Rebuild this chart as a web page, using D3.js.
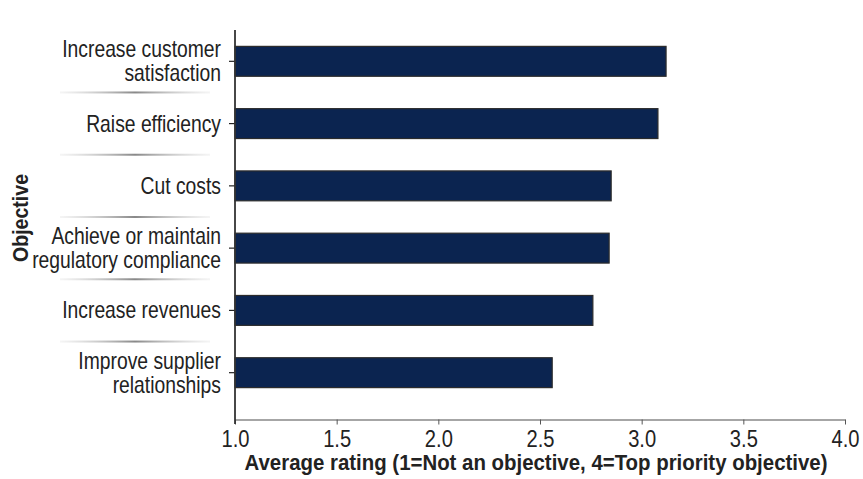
<!DOCTYPE html>
<html>
<head>
    <script src="https://d3js.org/d3.v7.min.js" type="text/javascript"></script>
    <style>
        body { margin: 0; background: #fff; }
        text { fill: #222; }
    </style>
</head>
<body>
    <div id="viz"></div>
    <script type="text/javascript">

    // objectives, top to bottom (each entry = lines of the label)
    var objectives = [
        ["Increase customer", "satisfaction"],
        ["Raise efficiency"],
        ["Cut costs"],
        ["Achieve or maintain", "regulatory compliance"],
        ["Increase revenues"],
        ["Improve supplier", "relationships"]
    ];
    var ratings = [3.12, 3.08, 2.85, 2.84, 2.76, 2.56];
    var xTicks = [1.0, 1.5, 2.0, 2.5, 3.0, 3.5, 4.0];
    var xTitle = "Average rating (1=Not an objective, 4=Top priority objective)";
    var yTitle = "Objective";

    var W = 863, H = 479;
    // no narrow font installed, so squeeze Liberation Sans horizontally
    var font = "'Liberation Sans', Arial, sans-serif";
    var squeeze = 0.84;

    var keys = objectives.map(function(d) { return d.join(" "); });

    var svg = d3.select("#viz")
        .append("svg")
        .attr("width", W)
        .attr("height", H)
        .style("font-family", font);

    var x = d3.scaleLinear().domain([1, 4]).range([235, 845]);
    var y = d3.scaleBand().domain(keys).range([14, 420]).padding(0.52);

    // gradient used for the little divider lines between labels
    var grad = svg.append("defs").append("linearGradient")
        .attr("id", "sep")
        .attr("x1", "0%").attr("x2", "100%");
    grad.append("stop").attr("offset", "0%").attr("stop-color", "#ccc").attr("stop-opacity", 0.2);
    grad.append("stop").attr("offset", "50%").attr("stop-color", "#888").attr("stop-opacity", 1);
    grad.append("stop").attr("offset", "100%").attr("stop-color", "#ccc").attr("stop-opacity", 0.2);

    var gap = (y.step() - y.bandwidth()) / 2;
    svg.selectAll("rect.sep")
        .data(keys.slice(0, keys.length - 1))
        .enter().append("rect")
        .attr("class", "sep")
        .attr("x", 60)
        .attr("width", 150)
        .attr("y", function(d) { return y(d) + y.bandwidth() + gap - 1; })
        .attr("height", 2)
        .attr("fill", "url(#sep)");

    // bars
    svg.selectAll("rect.bar")
        .data(ratings)
        .enter().append("rect")
        .attr("class", "bar")
        .attr("x", x(1))
        .attr("y", function(d, i) { return y(keys[i]); })
        .attr("width", function(d) { return x(d) - x(1); })
        .attr("height", y.bandwidth())
        .attr("fill", "#0b2450")
        .attr("stroke", "#2b2b2b")
        .attr("stroke-width", 1.2);

    // x axis
    var xAxis = svg.append("g")
        .attr("transform", "translate(0," + 419.5 + ")")
        .call(d3.axisBottom(x).tickValues(xTicks).tickFormat(d3.format(".1f")).tickSize(5).tickSizeOuter(0));
    xAxis.select(".domain").attr("stroke", "#888").attr("stroke-width", 1.5);
    xAxis.selectAll(".tick line").attr("stroke", "#555");
    xAxis.selectAll(".tick text")
        .attr("y", 10)
        .attr("dy", "0.71em")
        .attr("transform", "scale(" + squeeze + ",1)")
        .style("font-family", font)
        .style("font-size", "24px")
        .attr("fill", "#222");

    // y axis
    var yAxis = svg.append("g")
        .attr("transform", "translate(" + 235 + ",0)")
        .call(d3.axisLeft(y).tickSize(6).tickSizeOuter(0).tickFormat(""));
    yAxis.select(".domain").remove();
    yAxis.selectAll(".tick line").attr("stroke", "#222").attr("stroke-width", 1.2);
    svg.append("line")
        .attr("x1", 235).attr("x2", 235)
        .attr("y1", 30).attr("y2", 424)
        .attr("stroke", "#333")
        .attr("stroke-width", 1.8);

    // category labels
    var lineH = 24;
    var lab = svg.selectAll("text.cat")
        .data(objectives)
        .enter().append("text")
        .attr("class", "cat")
        .attr("text-anchor", "end")
        .style("font-size", "23px")
        .attr("transform", function(d, i) {
            return "translate(221," + (y(keys[i]) + y.bandwidth() / 2) + ") scale(" + squeeze + ",1)";
        });
    lab.selectAll("tspan")
        .data(function(d) {
            return d.map(function(t, j) { return { t: t, j: j, n: d.length }; });
        })
        .enter().append("tspan")
        .attr("x", 0)
        .attr("y", function(d) { return (d.j - (d.n - 1) / 2) * lineH; })
        .attr("dy", "0.35em")
        .text(function(d) { return d.t; });

    // titles (x title squeezed to the reference width)
    svg.append("text")
        .attr("x", 536)
        .attr("y", 470)
        .attr("text-anchor", "middle")
        .attr("transform", "translate(536,0) scale(0.95,1) translate(-536,0)")
        .style("font-size", "21.5px")
        .style("font-weight", "bold")
        .text(xTitle);

    svg.append("text")
        .attr("transform", "translate(28,218) rotate(-90)")
        .attr("text-anchor", "middle")
        .attr("textLength", 88)
        .attr("lengthAdjust", "spacingAndGlyphs")
        .style("font-size", "22px")
        .style("font-weight", "bold")
        .text(yTitle);

    </script>
</body>
</html>
